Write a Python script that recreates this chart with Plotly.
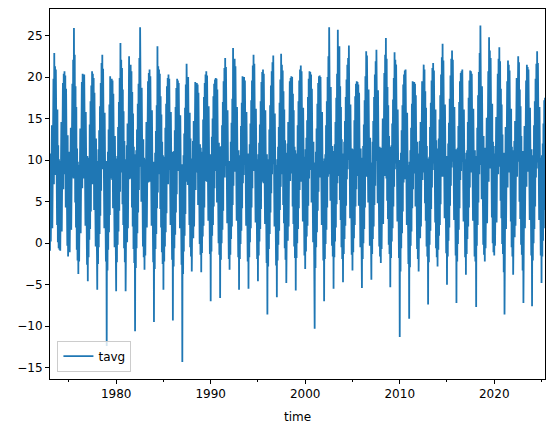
import pandas as pd
import plotly.graph_objects as go

# Semi-monthly turning points (local low / local high) of daily mean temperature, per year,
# read approximately from the reference picture.
years = list(range(1973, 2026))
tavg_by_year = [
    [-0.9, 10.8, 0.2, 12.1, 0.9, 14.2, 1.8, 16.9, 3.9, 19.8, 7.1, 22.9, 9.4, 21.3, 8.2, 20.9, 4.8, 18.3, 2.2, 16.1, 0.1, 11.8, -0.6, 10.1],
    [-0.8, 9.9, -0.9, 12.4, 0.6, 14.6, 1.4, 17.3, 3.6, 19.3, 6.5, 20.4, 8.3, 20.7, 9.9, 20.2, 4.3, 18.6, 2.5, 16.3, -0.3, 13.0, -1.6, 10.2],
    [-0.9, 11.0, -1.1, 10.8, 0.2, 13.9, 1.6, 16.8, 3.5, 19.2, 7.9, 22.1, 7.8, 25.9, 9.4, 22.7, 4.9, 18.9, 1.9, 16.4, -0.8, 11.4, -2.1, 9.8],
    [-3.7, 9.4, -2.2, 11.6, -0.3, 13.8, 1.2, 16.7, 3.2, 19.4, 6.6, 20.4, 9.6, 20.1, 7.8, 20.3, 4.4, 17.9, 2.1, 15.8, -1.0, 12.1, -2.6, 10.5],
    [-4.6, 10.3, -1.7, 10.0, 0.4, 14.3, 1.7, 17.1, 3.8, 19.0, 8.0, 20.7, 7.1, 20.4, 9.3, 19.9, 4.0, 18.1, 2.3, 16.2, -0.4, 12.6, -2.0, 11.0],
    [-5.6, 9.9, -2.5, 11.3, -0.5, 13.6, 1.1, 16.5, 3.3, 19.3, 6.3, 21.7, 9.4, 22.7, 8.9, 21.0, 4.6, 18.2, 1.8, 15.7, -0.7, 11.7, -2.2, 9.9],
    [-12.4, 9.5, -3.3, 11.0, -0.8, 13.7, 1.3, 16.7, 3.4, 20.1, 7.8, 19.6, 8.9, 19.8, 7.6, 19.6, 4.2, 18.0, 2.4, 16.0, -0.5, 12.9, -1.8, 11.3],
    [-5.8, 10.2, -2.3, 10.5, -0.2, 14.0, 1.4, 17.0, 3.9, 19.9, 6.2, 24.1, 10.0, 22.1, 8.5, 21.1, 4.7, 18.5, 2.2, 15.9, -0.6, 12.3, -2.3, 10.1],
    [-5.8, 9.6, -2.0, 11.8, 0.1, 14.4, 1.8, 17.5, 4.3, 22.5, 7.7, 20.9, 7.8, 21.5, 9.2, 20.7, 4.3, 18.2, 2.0, 15.6, -0.7, 11.6, -2.4, 10.7],
    [-10.6, 9.7, -3.0, 11.2, -0.6, 13.7, 1.2, 16.8, 3.7, 19.2, 6.4, 22.3, 9.2, 26.0, 8.7, 22.5, 5.0, 18.7, 2.4, 16.2, -0.4, 12.5, -1.7, 10.3],
    [-3.2, 10.1, -1.5, 12.2, 0.5, 14.6, 1.9, 17.2, 4.0, 19.5, 7.3, 20.5, 9.6, 20.9, 7.4, 20.1, 4.5, 18.0, 2.1, 16.0, -0.9, 12.0, -2.3, 9.8],
    [-9.5, 9.6, -3.1, 10.9, -0.7, 13.5, 1.1, 16.6, 4.2, 23.7, 6.1, 21.3, 8.3, 20.9, 9.9, 20.4, 4.1, 17.7, 1.9, 15.5, -1.1, 12.2, -2.5, 10.6],
    [-5.6, 10.1, -2.2, 10.4, -0.4, 13.9, 1.3, 16.8, 3.6, 18.9, 8.0, 19.9, 7.1, 20.3, 8.8, 19.8, 4.0, 17.8, 2.2, 15.8, -0.8, 11.4, -2.0, 11.0],
    [-9.3, 9.8, -2.8, 11.1, -0.6, 13.6, 1.0, 16.4, 3.7, 18.7, 5.9, 19.8, 9.0, 19.6, 8.7, 19.3, 3.8, 17.4, 1.8, 15.4, -1.2, 12.0, -2.6, 9.5],
    [-14.3, 9.2, -3.7, 10.6, -1.0, 13.2, 0.9, 16.3, 3.5, 19.1, 7.4, 21.6, 9.4, 20.7, 7.0, 20.0, 4.3, 17.9, 2.2, 15.7, -0.5, 12.6, -1.6, 10.2],
    [-3.4, 10.2, -1.3, 12.3, 0.6, 14.7, 2.0, 17.5, 4.2, 19.4, 6.4, 19.2, 8.5, 19.3, 9.2, 19.1, 4.6, 18.1, 2.6, 16.4, -0.1, 11.9, -1.4, 11.5],
    [-3.5, 11.0, -1.2, 10.6, 0.8, 14.9, 2.1, 17.6, 4.3, 19.3, 7.5, 20.3, 9.6, 20.7, 7.4, 20.2, 4.8, 18.4, 2.7, 16.5, 0.1, 13.2, -1.3, 10.7],
    [-7.0, 9.8, -1.0, 12.8, 0.9, 15.0, 2.2, 17.7, 4.4, 19.2, 6.6, 19.7, 8.7, 19.9, 9.5, 19.8, 4.9, 18.5, 2.6, 16.6, 0.0, 12.1, -1.4, 11.6],
    [-6.6, 10.2, -2.0, 11.7, 0.0, 14.2, 1.6, 17.0, 3.9, 19.5, 8.3, 21.1, 7.9, 22.3, 9.3, 21.2, 4.6, 18.3, 2.4, 16.0, -0.7, 12.5, -1.9, 9.9],
    [-3.2, 9.9, -1.4, 12.2, 0.5, 14.5, 2.0, 17.4, 4.6, 23.5, 6.9, 21.7, 10.0, 22.2, 8.6, 21.3, 4.9, 18.6, 2.7, 16.4, -0.2, 11.7, -1.7, 11.2],
    [-5.6, 10.3, -1.9, 10.6, -0.1, 14.1, 1.5, 16.9, 4.2, 20.1, 7.2, 19.7, 8.2, 20.0, 9.4, 19.6, 4.3, 17.8, 2.1, 15.8, -1.0, 12.2, -2.2, 10.8],
    [-5.5, 9.5, -1.7, 11.9, 0.1, 14.4, 1.8, 17.2, 4.3, 19.6, 6.6, 21.4, 9.1, 22.7, 8.7, 21.6, 4.8, 18.5, 2.5, 16.2, -0.3, 12.8, -1.9, 10.1],
    [-4.6, 10.7, -1.5, 12.1, 0.2, 14.3, 1.7, 17.1, 4.1, 19.4, 7.4, 20.6, 9.6, 20.9, 7.2, 20.4, 4.4, 18.1, 2.3, 16.0, -0.8, 11.3, -2.4, 10.7],
    [-8.6, 9.8, -2.8, 10.1, -0.7, 13.7, 1.1, 16.6, 3.7, 19.0, 6.0, 20.7, 8.3, 21.8, 9.5, 22.6, 4.3, 17.9, 2.0, 15.6, -1.1, 11.9, -2.7, 9.4],
    [-6.5, 10.1, -2.1, 11.6, -0.2, 14.0, 1.5, 16.9, 4.0, 19.7, 6.8, 22.8, 9.8, 21.5, 8.3, 20.8, 4.6, 18.3, 2.4, 16.1, -0.6, 12.4, -2.0, 10.9],
    [-4.8, 9.8, -1.4, 12.0, 0.3, 14.6, 2.0, 17.4, 4.4, 19.5, 7.5, 19.9, 8.4, 20.1, 9.1, 20.0, 4.4, 18.0, 2.3, 16.0, -0.4, 11.6, -1.8, 11.2],
    [-5.7, 10.4, -1.8, 10.8, 0.0, 14.2, 1.7, 17.1, 4.2, 19.6, 6.4, 20.9, 9.7, 21.4, 7.4, 20.7, 4.7, 18.4, 2.6, 16.3, -0.2, 12.8, -1.5, 10.4],
    [-3.1, 11.3, -1.0, 12.7, 0.8, 14.8, 2.1, 17.6, 4.5, 19.8, 7.8, 20.7, 8.8, 20.6, 9.5, 20.3, 4.9, 18.6, 2.8, 16.6, 0.1, 12.2, -1.3, 10.6],
    [-10.3, 9.7, -3.0, 11.0, -0.5, 13.8, 1.3, 16.8, 3.9, 19.3, 6.2, 20.1, 9.3, 20.2, 7.9, 20.0, 4.3, 17.9, 2.2, 15.8, -0.9, 12.1, -2.1, 9.9],
    [-7.0, 10.2, -1.9, 10.7, -0.1, 14.2, 1.6, 17.1, 4.3, 20.0, 8.0, 22.5, 8.3, 26.0, 9.9, 22.8, 5.1, 18.8, 2.9, 16.5, -0.3, 11.7, -1.6, 11.1],
    [-5.5, 9.5, -1.7, 11.9, 0.2, 14.6, 1.9, 17.5, 4.7, 20.4, 7.2, 25.7, 9.5, 23.1, 8.1, 23.7, 5.2, 18.9, 2.8, 16.4, -0.5, 12.5, -1.9, 10.0],
    [-4.7, 10.8, -1.3, 12.2, 0.5, 14.7, 2.1, 17.6, 4.5, 19.7, 7.7, 21.5, 8.9, 22.3, 10.0, 23.8, 5.0, 18.7, 3.0, 16.7, -0.1, 13.0, -1.4, 11.4],
    [-3.3, 10.2, -1.1, 11.3, 0.6, 14.8, 2.2, 17.7, 4.4, 19.2, 6.5, 19.5, 9.4, 19.4, 8.1, 19.1, 4.5, 18.1, 2.6, 16.1, -0.5, 11.4, -1.7, 10.0],
    [-5.4, 10.3, -1.9, 11.7, 0.0, 14.3, 1.7, 17.2, 4.3, 20.1, 8.0, 23.1, 8.0, 22.6, 9.6, 20.7, 4.9, 18.5, 2.8, 16.3, -0.3, 12.7, -1.5, 11.3],
    [-4.4, 9.7, -1.3, 12.2, 0.5, 14.7, 2.0, 17.6, 4.6, 20.3, 6.9, 21.9, 9.9, 23.3, 8.7, 21.4, 4.8, 18.4, 2.7, 16.2, -0.4, 11.6, -1.6, 10.2],
    [-2.4, 11.5, -0.7, 11.7, 1.0, 15.0, 2.3, 17.9, 4.8, 20.5, 8.1, 22.7, 9.2, 24.7, 7.8, 22.2, 5.1, 18.8, 2.9, 16.6, -0.2, 12.9, -1.3, 11.6],
    [-5.3, 10.4, -1.8, 11.8, 0.2, 14.4, 1.8, 17.3, 4.4, 19.9, 6.8, 23.0, 8.9, 22.1, 9.6, 21.5, 4.8, 18.4, 2.6, 16.1, -0.5, 12.5, -1.8, 10.0],
    [-11.3, 9.5, -3.4, 10.9, -0.6, 13.6, 1.2, 16.6, 3.8, 19.1, 7.3, 20.3, 9.5, 20.8, 7.7, 20.9, 4.4, 18.0, 2.2, 15.7, -1.0, 11.8, -2.5, 9.4],
    [-9.1, 9.8, -2.9, 11.2, -0.3, 13.9, 1.4, 16.8, 4.2, 19.5, 6.5, 19.3, 8.4, 19.4, 9.1, 19.2, 4.4, 17.8, 2.4, 15.9, -0.7, 12.2, -1.9, 10.8],
    [-3.4, 10.1, -1.2, 12.3, 0.6, 14.6, 2.0, 17.5, 4.4, 19.5, 7.6, 20.6, 9.7, 21.5, 8.5, 20.9, 4.8, 18.3, 2.7, 16.3, -0.4, 11.7, -1.6, 10.2],
    [-7.4, 10.1, -2.3, 10.4, -0.2, 14.0, 1.5, 16.9, 4.1, 19.6, 6.7, 21.1, 8.8, 21.7, 9.6, 20.8, 4.7, 18.2, 2.5, 16.1, -0.6, 12.4, -1.7, 11.1],
    [-2.8, 11.4, -0.8, 12.6, 0.9, 14.9, 2.2, 17.8, 4.7, 20.3, 8.0, 22.4, 10.2, 24.0, 8.0, 22.0, 5.2, 18.7, 3.0, 16.7, -0.1, 12.1, -1.2, 10.5],
    [-5.0, 9.6, -1.6, 12.0, 0.3, 14.5, 1.9, 17.4, 4.5, 20.2, 6.9, 22.2, 9.1, 23.2, 9.8, 22.1, 5.0, 18.6, 2.8, 16.4, -0.3, 12.8, -1.5, 11.3],
    [-7.2, 10.1, -2.2, 11.5, -0.1, 14.1, 1.6, 17.0, 4.2, 19.5, 7.6, 20.5, 8.7, 20.7, 9.8, 20.9, 4.9, 18.4, 2.6, 16.1, -0.5, 11.5, -1.7, 10.1],
    [-3.8, 10.9, -1.3, 11.2, 0.5, 14.6, 2.0, 17.5, 4.3, 19.6, 6.7, 20.8, 9.8, 20.7, 8.5, 20.4, 4.7, 18.2, 2.7, 16.2, -0.4, 12.6, -1.6, 11.2],
    [-2.2, 10.0, -7.7, 10.5, -0.3, 13.9, 2.2, 17.8, 4.9, 20.6, 8.3, 22.9, 9.4, 26.2, 10.1, 23.4, 5.3, 18.9, 3.0, 16.6, -0.2, 12.9, -1.4, 10.5],
    [-2.2, 11.5, -0.6, 12.8, 1.1, 15.1, 2.4, 18.0, 4.8, 20.7, 7.4, 24.8, 10.3, 23.2, 9.0, 22.3, 5.2, 18.8, 3.1, 16.8, 0.0, 12.2, -1.1, 11.7],
    [-1.5, 10.8, -0.3, 12.1, 1.3, 15.2, 2.5, 18.1, 4.9, 20.4, 8.3, 22.2, 9.2, 23.6, 9.9, 21.9, 5.1, 18.6, 3.0, 16.7, -0.1, 13.1, -1.3, 10.6],
    [-3.5, 10.9, -8.6, 10.4, -0.2, 14.0, 1.7, 17.0, 4.1, 19.5, 6.7, 22.0, 9.8, 21.5, 8.5, 20.8, 4.8, 18.3, 2.6, 16.2, -0.5, 11.6, -1.6, 11.2],
    [-3.8, 10.0, -1.2, 12.3, 0.7, 14.7, 2.1, 17.6, 4.5, 19.9, 8.0, 21.7, 9.1, 22.5, 9.8, 21.8, 5.0, 18.5, 2.9, 16.5, -0.2, 12.9, -1.4, 10.4],
    [-3.3, 11.1, -7.2, 10.6, -0.1, 14.1, 1.8, 17.1, 4.3, 19.6, 6.8, 21.5, 9.9, 21.2, 8.6, 20.9, 4.9, 18.4, 2.8, 16.3, -0.3, 11.7, -1.5, 11.3],
    [-7.6, 10.2, -2.1, 10.6, 0.0, 14.2, 1.7, 17.1, 4.4, 19.8, 7.9, 21.6, 9.0, 23.1, 9.7, 21.7, 5.0, 18.5, 2.8, 16.4, -0.3, 12.7, -1.5, 10.3],
    [-4.8, 10.6, -1.6, 12.0, 0.3, 14.4, 1.8, 17.2, 4.0, 17.5],
]

tavg = [v for row in tavg_by_year for v in row]
time = pd.date_range("1973-01-01", periods=len(tavg), freq="SMS")

y_ticks = [-15, -10, -5, 0, 5, 10, 15, 20, 25]
x_major = [1980, 1990, 2000, 2010, 2020]
x_minor = [1975, 1985, 1995, 2005, 2015, 2025]

font = "DejaVu Sans"
fig = go.Figure()
fig.add_trace(go.Scatter(
    x=time, y=tavg, mode="lines", name="tavg",
    line=dict(color="#1f77b4", width=1.8),
))

fig.update_layout(
    width=554, height=432,
    margin=dict(l=50, r=9, t=9, b=53),
    paper_bgcolor="white", plot_bgcolor="white",
    font=dict(family=font, size=12, color="black"),
    showlegend=True,
    legend=dict(
        x=0.015, y=0.02, xanchor="left", yanchor="bottom",
        bgcolor="rgba(255,255,255,0.8)", bordercolor="#cccccc", borderwidth=1,
        font=dict(family=font, size=12, color="black"),
        itemwidth=30,
    ),
    xaxis=dict(
        range=[time[0], time[-1]],
        automargin=False,
        showline=True, mirror=True, linecolor="black", linewidth=1,
        showgrid=False, zeroline=False,
        ticks="outside", ticklen=4, tickwidth=1, tickcolor="black",
        tickmode="array",
        tickvals=[pd.Timestamp(f"{y}-01-01") for y in x_major],
        ticktext=[str(y) for y in x_major],
        minor=dict(ticks="outside", ticklen=2, tickwidth=1, tickcolor="black",
                   tickmode="array",
                   tickvals=[pd.Timestamp(f"{y}-01-01") for y in x_minor],
                   showgrid=False),
        title=dict(text="time", standoff=12, font=dict(family=font, size=12)),
        tickfont=dict(family=font, size=12),
    ),
    yaxis=dict(
        range=[-16.36, 28.2],
        automargin=False,
        showline=True, mirror=True, linecolor="black", linewidth=1,
        showgrid=False, zeroline=False,
        ticks="outside", ticklen=4, tickwidth=1, tickcolor="black",
        tickmode="array", tickvals=y_ticks,
        ticktext=[str(v).replace("-", "\u2212") for v in y_ticks],
        tickfont=dict(family=font, size=12),
    ),
)

fig.write_html(
    "out.html",
    config={"displayModeBar": False},
    post_script="document.body.style.margin='0';document.body.style.overflow='hidden';",
)
